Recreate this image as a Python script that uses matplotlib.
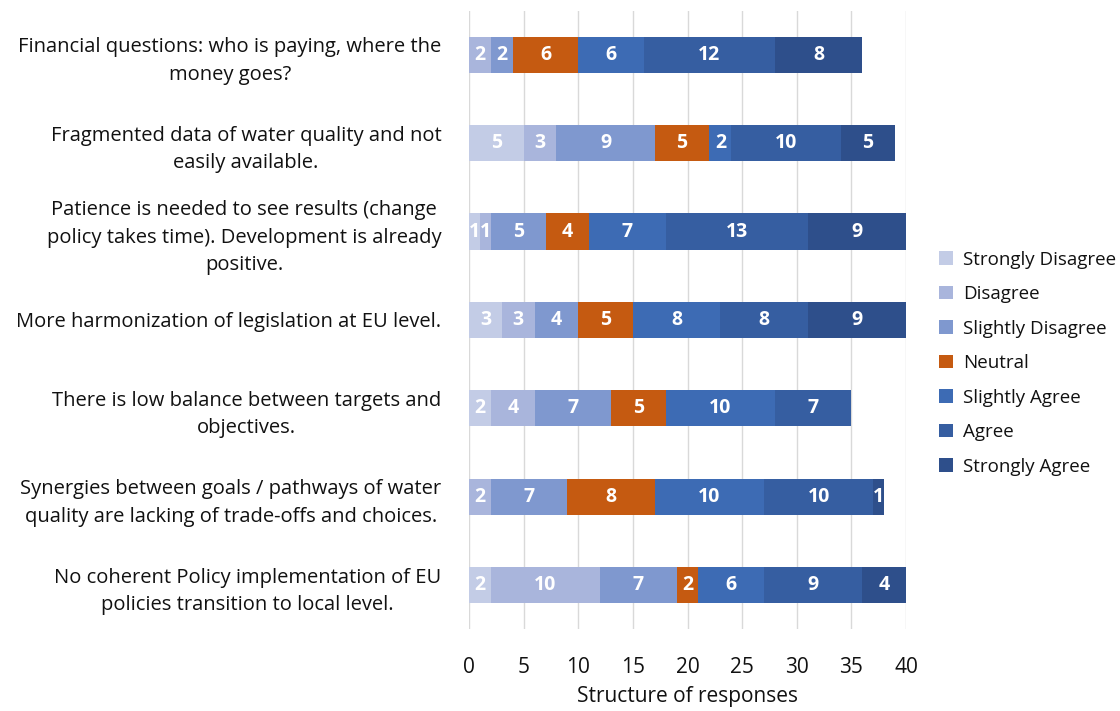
import matplotlib
matplotlib.use("Agg")
import matplotlib.pyplot as plt
import numpy as np

plt.rcParams['font.family'] = ['Open Sans', 'DejaVu Sans']

categories = [
    "Financial questions: who is paying, where the\nmoney goes?",
    "Fragmented data of water quality and not\neasily available.",
    "Patience is needed to see results (change\npolicy takes time). Development is already\npositive.",
    "More harmonization of legislation at EU level.",
    "There is low balance between targets and\nobjectives.",
    "Synergies between goals / pathways of water\nquality are lacking of trade-offs and choices.",
    "No coherent Policy implementation of EU\npolicies transition to local level.",
]
series_names = ["Strongly Disagree", "Disagree", "Slightly Disagree", "Neutral",
                "Slightly Agree", "Agree", "Strongly Agree"]
strongly_disagree = [0, 5, 1, 3, 2, 0, 2]
disagree          = [2, 3, 1, 3, 4, 2, 10]
slightly_disagree = [2, 9, 5, 4, 7, 7, 7]
neutral           = [6, 5, 4, 5, 5, 8, 2]
slightly_agree    = [6, 2, 7, 8, 10, 10, 6]
agree             = [12, 10, 13, 8, 7, 10, 9]
strongly_agree    = [8, 5, 9, 9, 0, 1, 4]
series = [strongly_disagree, disagree, slightly_disagree, neutral,
          slightly_agree, agree, strongly_agree]
colors = ["#c3cce6", "#a9b5dc", "#7f98cf", "#c55a11", "#3d6bb4", "#365ea1", "#2e4f8b"]
xticks = [0, 5, 10, 15, 20, 25, 30, 35, 40]

fig = plt.figure(figsize=(11.2, 7.11), dpi=100)
ax = fig.add_axes([0.4188, 0.115, 0.3902, 0.870])

y = np.arange(len(categories))
left = np.zeros(len(categories))
for name, vals, c in zip(series_names, series, colors):
    vals = np.array(vals, dtype=float)
    ax.barh(y, vals, left=left, height=0.41, color=c, label=name, zorder=3)
    for yi, (l, v) in enumerate(zip(left, vals)):
        if v > 0:
            ax.text(l + v / 2, yi, f"{int(v)}", ha="center", va="center",
                    color="white", fontsize=14, fontweight="bold", zorder=4)
    left += vals

ax.set_xlim(0, 40)
ax.set_ylim(len(categories) - 0.5, -0.5)
ax.set_xticks(xticks)
ax.set_xticklabels([str(t) for t in xticks], fontsize=15, color="#111111")
ax.set_yticks(y)
ax.set_yticklabels(categories, fontsize=14.5, multialignment="center",
                   color="#111111", linespacing=1.5)
ax.tick_params(axis="y", length=0, pad=20)
ax.tick_params(axis="x", length=0, pad=20)
ax.grid(axis="x", color="#d9d9d9", linewidth=1, zorder=0)
for s in ax.spines.values():
    s.set_visible(False)
ax.set_xlabel("Structure of responses", fontsize=15, color="#111111", labelpad=6)

leg = fig.legend(loc="upper left", bbox_to_anchor=(0.832, 0.658), frameon=False,
                 fontsize=13.5, handlelength=0.75, handleheight=0.75,
                 handletextpad=0.5, labelspacing=0.88, borderaxespad=0)
for t in leg.get_texts():
    t.set_color("#111111")

fig.savefig("out.png", dpi=100)
